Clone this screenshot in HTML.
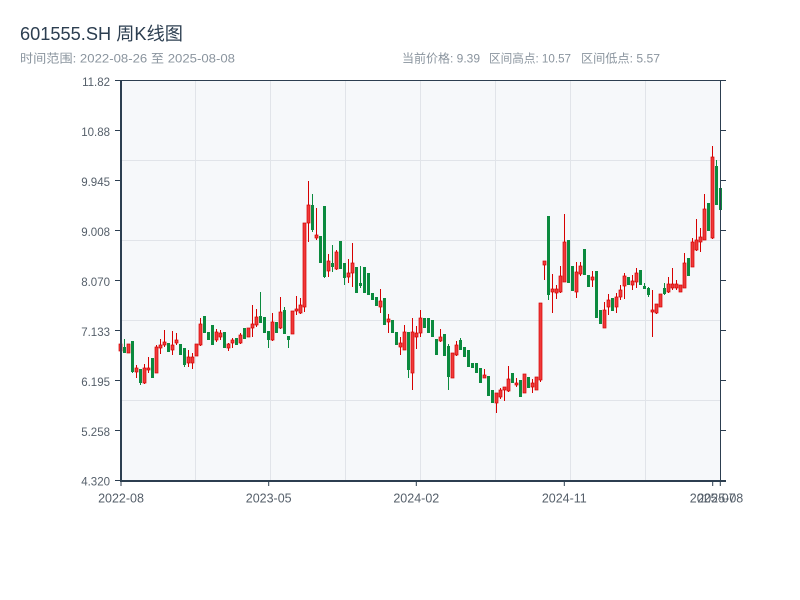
<!DOCTYPE html>
<html>
<head>
<meta charset="utf-8">
<style>
html,body{margin:0;padding:0;background:#fff;}
svg{display:block;}
text{font-family:"Liberation Sans","Noto Sans CJK SC",sans-serif;}
</style>
</head>
<body>
<svg width="800" height="600" viewBox="0 0 800 600" xmlns="http://www.w3.org/2000/svg">
<rect x="0" y="0" width="800" height="600" fill="#ffffff"/>
<text x="20" y="40" font-size="18" fill="#2c3e50" textLength="163" lengthAdjust="spacingAndGlyphs">601555.SH 周K线图</text>
<text x="20" y="62.5" font-size="12" fill="#8a949e" textLength="215" lengthAdjust="spacingAndGlyphs">时间范围: 2022-08-26 至 2025-08-08</text>
<text x="402" y="62.5" font-size="12" fill="#8a949e" textLength="78" lengthAdjust="spacingAndGlyphs">当前价格: 9.39</text>
<text x="489" y="62.5" font-size="12" fill="#8a949e" textLength="82" lengthAdjust="spacingAndGlyphs">区间高点: 10.57</text>
<text x="581" y="62.5" font-size="12" fill="#8a949e" textLength="79" lengthAdjust="spacingAndGlyphs">区间低点: 5.57</text>

<rect x="120" y="80" width="600" height="400" fill="#f6f8fa"/>
<g stroke="#e1e4e9" stroke-width="1">
<line x1="195.5" y1="80" x2="195.5" y2="480"/>
<line x1="270.5" y1="80" x2="270.5" y2="480"/>
<line x1="345.5" y1="80" x2="345.5" y2="480"/>
<line x1="420.5" y1="80" x2="420.5" y2="480"/>
<line x1="495.5" y1="80" x2="495.5" y2="480"/>
<line x1="570.5" y1="80" x2="570.5" y2="480"/>
<line x1="645.5" y1="80" x2="645.5" y2="480"/>
<line x1="120" y1="160.5" x2="720" y2="160.5"/>
<line x1="120" y1="240.5" x2="720" y2="240.5"/>
<line x1="120" y1="320.5" x2="720" y2="320.5"/>
<line x1="120" y1="400.5" x2="720" y2="400.5"/>
</g>

<g stroke="#0b8a3e" stroke-width="1" transform="translate(0.5,0)">
<line x1="124" y1="339" x2="124" y2="353"/>
<line x1="132" y1="341" x2="132" y2="373"/>
<line x1="140" y1="369" x2="140" y2="385"/>
<line x1="152" y1="358" x2="152" y2="378"/>
<line x1="168" y1="343" x2="168" y2="352"/>
<line x1="180" y1="344" x2="180" y2="355"/>
<line x1="184" y1="348" x2="184" y2="367"/>
<line x1="204" y1="316" x2="204" y2="333"/>
<line x1="208" y1="332" x2="208" y2="340"/>
<line x1="212" y1="325" x2="212" y2="345"/>
<line x1="224" y1="332" x2="224" y2="348"/>
<line x1="236" y1="338" x2="236" y2="345"/>
<line x1="244" y1="328" x2="244" y2="339"/>
<line x1="260" y1="292" x2="260" y2="323"/>
<line x1="264" y1="317" x2="264" y2="333"/>
<line x1="268" y1="331" x2="268" y2="348"/>
<line x1="276" y1="322" x2="276" y2="333"/>
<line x1="284" y1="307" x2="284" y2="334"/>
<line x1="288" y1="336" x2="288" y2="348"/>
<line x1="312" y1="194" x2="312" y2="232"/>
<line x1="320" y1="236" x2="320" y2="263"/>
<line x1="324" y1="206" x2="324" y2="278"/>
<line x1="332" y1="245" x2="332" y2="272"/>
<line x1="340" y1="241" x2="340" y2="269"/>
<line x1="344" y1="263" x2="344" y2="285"/>
<line x1="356" y1="267" x2="356" y2="293"/>
<line x1="360" y1="266" x2="360" y2="288"/>
<line x1="364" y1="267" x2="364" y2="293"/>
<line x1="368" y1="273" x2="368" y2="295"/>
<line x1="372" y1="293" x2="372" y2="300"/>
<line x1="376" y1="297" x2="376" y2="306"/>
<line x1="384" y1="298" x2="384" y2="325"/>
<line x1="392" y1="320" x2="392" y2="333"/>
<line x1="396" y1="332" x2="396" y2="345"/>
<line x1="408" y1="332" x2="408" y2="378"/>
<line x1="424" y1="318" x2="424" y2="328"/>
<line x1="428" y1="318" x2="428" y2="333"/>
<line x1="432" y1="320" x2="432" y2="337"/>
<line x1="436" y1="339" x2="436" y2="355"/>
<line x1="444" y1="334" x2="444" y2="356"/>
<line x1="448" y1="344" x2="448" y2="390"/>
<line x1="460" y1="338" x2="460" y2="350"/>
<line x1="464" y1="347" x2="464" y2="357"/>
<line x1="468" y1="350" x2="468" y2="367"/>
<line x1="472" y1="363" x2="472" y2="368"/>
<line x1="476" y1="363" x2="476" y2="373"/>
<line x1="480" y1="368" x2="480" y2="383"/>
<line x1="488" y1="376" x2="488" y2="396"/>
<line x1="492" y1="390" x2="492" y2="403"/>
<line x1="512" y1="373" x2="512" y2="383"/>
<line x1="520" y1="380" x2="520" y2="397"/>
<line x1="528" y1="377" x2="528" y2="388"/>
<line x1="548" y1="216" x2="548" y2="300"/>
<line x1="568" y1="240" x2="568" y2="283"/>
<line x1="572" y1="266" x2="572" y2="291"/>
<line x1="584" y1="249" x2="584" y2="275"/>
<line x1="588" y1="275" x2="588" y2="287"/>
<line x1="596" y1="271" x2="596" y2="318"/>
<line x1="600" y1="310" x2="600" y2="324"/>
<line x1="612" y1="298" x2="612" y2="311"/>
<line x1="628" y1="277" x2="628" y2="285"/>
<line x1="640" y1="270" x2="640" y2="285"/>
<line x1="644" y1="283" x2="644" y2="289"/>
<line x1="648" y1="287" x2="648" y2="297"/>
<line x1="664" y1="283" x2="664" y2="295"/>
<line x1="688" y1="258" x2="688" y2="276"/>
<line x1="708" y1="203" x2="708" y2="231"/>
<line x1="716" y1="160" x2="716" y2="205"/>
<line x1="720" y1="188" x2="720" y2="212"/>
</g>
<g fill="#0b8a3e" transform="translate(0.2,0)">
<rect x="122.8" y="347" width="3" height="6"/>
<rect x="130.8" y="341" width="3" height="31"/>
<rect x="138.8" y="369" width="3" height="14"/>
<rect x="150.8" y="358" width="3" height="20"/>
<rect x="166.8" y="343" width="3" height="9"/>
<rect x="178.8" y="344" width="3" height="11"/>
<rect x="182.8" y="348" width="3" height="17"/>
<rect x="202.8" y="316" width="3" height="17"/>
<rect x="206.8" y="332" width="3" height="8"/>
<rect x="210.8" y="325" width="3" height="20"/>
<rect x="222.8" y="332" width="3" height="16"/>
<rect x="234.8" y="338" width="3" height="7"/>
<rect x="242.8" y="328" width="3" height="11"/>
<rect x="258.8" y="316" width="3" height="7"/>
<rect x="262.8" y="317" width="3" height="16"/>
<rect x="266.8" y="331" width="3" height="9"/>
<rect x="274.8" y="322" width="3" height="11"/>
<rect x="282.8" y="310" width="3" height="24"/>
<rect x="286.8" y="336" width="3" height="4"/>
<rect x="310.8" y="205" width="3" height="25"/>
<rect x="318.8" y="236" width="3" height="27"/>
<rect x="322.8" y="206" width="3" height="71"/>
<rect x="330.8" y="263" width="3" height="4"/>
<rect x="338.8" y="241" width="3" height="28"/>
<rect x="342.8" y="263" width="3" height="15"/>
<rect x="354.8" y="267" width="3" height="26"/>
<rect x="358.8" y="283" width="3" height="3"/>
<rect x="362.8" y="267" width="3" height="26"/>
<rect x="366.8" y="273" width="3" height="22"/>
<rect x="370.8" y="293" width="3" height="7"/>
<rect x="374.8" y="297" width="3" height="9"/>
<rect x="382.8" y="298" width="3" height="27"/>
<rect x="390.8" y="320" width="3" height="13"/>
<rect x="394.8" y="332" width="3" height="13"/>
<rect x="406.8" y="332" width="3" height="38"/>
<rect x="422.8" y="318" width="3" height="10"/>
<rect x="426.8" y="318" width="3" height="15"/>
<rect x="430.8" y="320" width="3" height="17"/>
<rect x="434.8" y="339" width="3" height="16"/>
<rect x="442.8" y="334" width="3" height="22"/>
<rect x="446.8" y="346" width="3" height="31"/>
<rect x="458.8" y="340" width="3" height="10"/>
<rect x="462.8" y="347" width="3" height="10"/>
<rect x="466.8" y="350" width="3" height="17"/>
<rect x="470.8" y="363" width="3" height="5"/>
<rect x="474.8" y="363" width="3" height="10"/>
<rect x="478.8" y="368" width="3" height="15"/>
<rect x="486.8" y="376" width="3" height="20"/>
<rect x="490.8" y="390" width="3" height="13"/>
<rect x="510.8" y="373" width="3" height="10"/>
<rect x="518.8" y="380" width="3" height="17"/>
<rect x="526.8" y="377" width="3" height="11"/>
<rect x="546.8" y="216" width="3" height="79"/>
<rect x="566.8" y="240" width="3" height="43"/>
<rect x="570.8" y="266" width="3" height="25"/>
<rect x="582.8" y="249" width="3" height="26"/>
<rect x="586.8" y="275" width="3" height="12"/>
<rect x="594.8" y="271" width="3" height="47"/>
<rect x="598.8" y="310" width="3" height="14"/>
<rect x="610.8" y="298" width="3" height="13"/>
<rect x="626.8" y="277" width="3" height="8"/>
<rect x="638.8" y="270" width="3" height="15"/>
<rect x="642.8" y="286" width="3" height="3"/>
<rect x="646.8" y="288" width="3" height="7"/>
<rect x="662.8" y="288" width="3" height="6"/>
<rect x="686.8" y="258" width="3" height="18"/>
<rect x="706.8" y="203" width="3" height="28"/>
<rect x="714.8" y="166" width="3" height="39"/>
<rect x="718.8" y="188" width="3" height="22"/>
</g>

<g stroke="#d60000" stroke-width="1" transform="translate(0.5,0)">
<line x1="120" y1="344" x2="120" y2="351"/>
<line x1="128" y1="344" x2="128" y2="353"/>
<line x1="136" y1="365" x2="136" y2="378"/>
<line x1="144" y1="364" x2="144" y2="384"/>
<line x1="148" y1="357" x2="148" y2="373"/>
<line x1="156" y1="345" x2="156" y2="373"/>
<line x1="160" y1="339" x2="160" y2="354"/>
<line x1="164" y1="330" x2="164" y2="347"/>
<line x1="172" y1="331" x2="172" y2="355"/>
<line x1="176" y1="333" x2="176" y2="345"/>
<line x1="188" y1="350" x2="188" y2="367"/>
<line x1="192" y1="353" x2="192" y2="369"/>
<line x1="196" y1="344" x2="196" y2="356"/>
<line x1="200" y1="318" x2="200" y2="346"/>
<line x1="216" y1="329" x2="216" y2="342"/>
<line x1="220" y1="330" x2="220" y2="340"/>
<line x1="228" y1="343" x2="228" y2="351"/>
<line x1="232" y1="338" x2="232" y2="348"/>
<line x1="240" y1="333" x2="240" y2="344"/>
<line x1="248" y1="328" x2="248" y2="337"/>
<line x1="252" y1="305" x2="252" y2="337"/>
<line x1="256" y1="309" x2="256" y2="327"/>
<line x1="272" y1="313" x2="272" y2="341"/>
<line x1="280" y1="297" x2="280" y2="329"/>
<line x1="292" y1="311" x2="292" y2="334"/>
<line x1="296" y1="296" x2="296" y2="315"/>
<line x1="300" y1="298" x2="300" y2="314"/>
<line x1="304" y1="223" x2="304" y2="312"/>
<line x1="308" y1="181" x2="308" y2="242"/>
<line x1="316" y1="208" x2="316" y2="240"/>
<line x1="328" y1="254" x2="328" y2="277"/>
<line x1="336" y1="250" x2="336" y2="270"/>
<line x1="348" y1="259" x2="348" y2="283"/>
<line x1="352" y1="243" x2="352" y2="287"/>
<line x1="380" y1="289" x2="380" y2="313"/>
<line x1="388" y1="314" x2="388" y2="333"/>
<line x1="400" y1="337" x2="400" y2="355"/>
<line x1="404" y1="325" x2="404" y2="350"/>
<line x1="412" y1="318" x2="412" y2="390"/>
<line x1="416" y1="326" x2="416" y2="349"/>
<line x1="420" y1="310" x2="420" y2="337"/>
<line x1="440" y1="329" x2="440" y2="342"/>
<line x1="452" y1="353" x2="452" y2="378"/>
<line x1="456" y1="341" x2="456" y2="356"/>
<line x1="484" y1="369" x2="484" y2="378"/>
<line x1="496" y1="393" x2="496" y2="413"/>
<line x1="500" y1="388" x2="500" y2="399"/>
<line x1="504" y1="387" x2="504" y2="401"/>
<line x1="508" y1="366" x2="508" y2="392"/>
<line x1="516" y1="378" x2="516" y2="387"/>
<line x1="524" y1="374" x2="524" y2="393"/>
<line x1="532" y1="379" x2="532" y2="393"/>
<line x1="536" y1="377" x2="536" y2="390"/>
<line x1="540" y1="303" x2="540" y2="382"/>
<line x1="544" y1="261" x2="544" y2="280"/>
<line x1="552" y1="274" x2="552" y2="313"/>
<line x1="556" y1="285" x2="556" y2="299"/>
<line x1="560" y1="266" x2="560" y2="293"/>
<line x1="564" y1="214" x2="564" y2="282"/>
<line x1="576" y1="262" x2="576" y2="298"/>
<line x1="580" y1="262" x2="580" y2="276"/>
<line x1="592" y1="271" x2="592" y2="287"/>
<line x1="604" y1="302" x2="604" y2="328"/>
<line x1="608" y1="294" x2="608" y2="315"/>
<line x1="616" y1="293" x2="616" y2="313"/>
<line x1="620" y1="285" x2="620" y2="300"/>
<line x1="624" y1="273" x2="624" y2="299"/>
<line x1="632" y1="275" x2="632" y2="290"/>
<line x1="636" y1="268" x2="636" y2="288"/>
<line x1="652" y1="290" x2="652" y2="337"/>
<line x1="656" y1="304" x2="656" y2="314"/>
<line x1="660" y1="294" x2="660" y2="307"/>
<line x1="668" y1="277" x2="668" y2="293"/>
<line x1="672" y1="268" x2="672" y2="290"/>
<line x1="676" y1="280" x2="676" y2="290"/>
<line x1="680" y1="285" x2="680" y2="292"/>
<line x1="684" y1="253" x2="684" y2="288"/>
<line x1="692" y1="238" x2="692" y2="267"/>
<line x1="696" y1="219" x2="696" y2="251"/>
<line x1="700" y1="228" x2="700" y2="252"/>
<line x1="704" y1="194" x2="704" y2="240"/>
<line x1="712" y1="146" x2="712" y2="239"/>
</g>
<g fill="#ef3a3a" stroke="#d60000" stroke-width="0.7" transform="translate(0.2,0)">
<rect x="118.8" y="344" width="3" height="7"/>
<rect x="126.8" y="344" width="3" height="9"/>
<rect x="134.8" y="368" width="3" height="4"/>
<rect x="142.8" y="368" width="3" height="15"/>
<rect x="146.8" y="368" width="3" height="2"/>
<rect x="154.8" y="347" width="3" height="26"/>
<rect x="158.8" y="345" width="3" height="3"/>
<rect x="162.8" y="342" width="3" height="3"/>
<rect x="170.8" y="345" width="3" height="5"/>
<rect x="174.8" y="340" width="3" height="3"/>
<rect x="186.8" y="357" width="3" height="6"/>
<rect x="190.8" y="357" width="3" height="6"/>
<rect x="194.8" y="344" width="3" height="12"/>
<rect x="198.8" y="324" width="3" height="21"/>
<rect x="214.8" y="332" width="3" height="8"/>
<rect x="218.8" y="333" width="3" height="4"/>
<rect x="226.8" y="344" width="3" height="4"/>
<rect x="230.8" y="340" width="3" height="3"/>
<rect x="238.8" y="335" width="3" height="8"/>
<rect x="246.8" y="328" width="3" height="9"/>
<rect x="250.8" y="324" width="3" height="4"/>
<rect x="254.8" y="317" width="3" height="8"/>
<rect x="270.8" y="322" width="3" height="18"/>
<rect x="278.8" y="312" width="3" height="16"/>
<rect x="290.8" y="311" width="3" height="23"/>
<rect x="294.8" y="309" width="3" height="2"/>
<rect x="298.8" y="305" width="3" height="8"/>
<rect x="302.8" y="223" width="3" height="84"/>
<rect x="306.8" y="205" width="3" height="18"/>
<rect x="314.8" y="235" width="3" height="3"/>
<rect x="326.8" y="261" width="3" height="10"/>
<rect x="334.8" y="252" width="3" height="17"/>
<rect x="346.8" y="273" width="3" height="4"/>
<rect x="350.8" y="263" width="3" height="10"/>
<rect x="378.8" y="301" width="3" height="6"/>
<rect x="386.8" y="319" width="3" height="3"/>
<rect x="398.8" y="343" width="3" height="4"/>
<rect x="402.8" y="332" width="3" height="18"/>
<rect x="410.8" y="332" width="3" height="41"/>
<rect x="414.8" y="333" width="3" height="4"/>
<rect x="418.8" y="318" width="3" height="15"/>
<rect x="438.8" y="337" width="3" height="4"/>
<rect x="450.8" y="353" width="3" height="25"/>
<rect x="454.8" y="345" width="3" height="10"/>
<rect x="482.8" y="375" width="3" height="3"/>
<rect x="494.8" y="393" width="3" height="10"/>
<rect x="498.8" y="390" width="3" height="7"/>
<rect x="502.8" y="387" width="3" height="3"/>
<rect x="506.8" y="379" width="3" height="12"/>
<rect x="514.8" y="383" width="3" height="2"/>
<rect x="522.8" y="374" width="3" height="19"/>
<rect x="530.8" y="383" width="3" height="4"/>
<rect x="534.8" y="377" width="3" height="13"/>
<rect x="538.8" y="303" width="3" height="77"/>
<rect x="542.8" y="261" width="3" height="4"/>
<rect x="550.8" y="289" width="3" height="3"/>
<rect x="554.8" y="289" width="3" height="4"/>
<rect x="558.8" y="276" width="3" height="16"/>
<rect x="562.8" y="242" width="3" height="40"/>
<rect x="574.8" y="272" width="3" height="20"/>
<rect x="578.8" y="266" width="3" height="8"/>
<rect x="590.8" y="277" width="3" height="3"/>
<rect x="602.8" y="310" width="3" height="18"/>
<rect x="606.8" y="300" width="3" height="7"/>
<rect x="614.8" y="297" width="3" height="10"/>
<rect x="618.8" y="290" width="3" height="7"/>
<rect x="622.8" y="276" width="3" height="10"/>
<rect x="630.8" y="281" width="3" height="4"/>
<rect x="634.8" y="273" width="3" height="9"/>
<rect x="650.8" y="310" width="3" height="2"/>
<rect x="654.8" y="304" width="3" height="9"/>
<rect x="658.8" y="294" width="3" height="13"/>
<rect x="666.8" y="284" width="3" height="8"/>
<rect x="670.8" y="284" width="3" height="4"/>
<rect x="674.8" y="284" width="3" height="4"/>
<rect x="678.8" y="285" width="3" height="7"/>
<rect x="682.8" y="263" width="3" height="25"/>
<rect x="690.8" y="242" width="3" height="25"/>
<rect x="694.8" y="240" width="3" height="10"/>
<rect x="698.8" y="237" width="3" height="5"/>
<rect x="702.8" y="209" width="3" height="31"/>
<rect x="710.8" y="157" width="3" height="81"/>
</g>

<g stroke="#2c3e50" fill="none">
<line x1="120" y1="80.5" x2="726" y2="80.5" stroke-width="1"/>
<line x1="720.5" y1="80" x2="720.5" y2="482" stroke-width="1"/>
<line x1="121" y1="80" x2="121" y2="482" stroke-width="2"/>
<line x1="120" y1="481" x2="726" y2="481" stroke-width="2"/>
<line x1="115" y1="80.5" x2="120" y2="80.5"/>
<line x1="115" y1="130.5" x2="120" y2="130.5"/>
<line x1="115" y1="180.5" x2="120" y2="180.5"/>
<line x1="115" y1="230.5" x2="120" y2="230.5"/>
<line x1="115" y1="280.5" x2="120" y2="280.5"/>
<line x1="115" y1="330.5" x2="120" y2="330.5"/>
<line x1="115" y1="380.5" x2="120" y2="380.5"/>
<line x1="115" y1="430.5" x2="120" y2="430.5"/>
<line x1="115" y1="480.5" x2="120" y2="480.5"/>
<line x1="720" y1="130.5" x2="726" y2="130.5"/>
<line x1="720" y1="180.5" x2="726" y2="180.5"/>
<line x1="720" y1="230.5" x2="726" y2="230.5"/>
<line x1="720" y1="280.5" x2="726" y2="280.5"/>
<line x1="720" y1="330.5" x2="726" y2="330.5"/>
<line x1="720" y1="380.5" x2="726" y2="380.5"/>
<line x1="720" y1="430.5" x2="726" y2="430.5"/>
<line x1="121" y1="481" x2="121" y2="486"/>
<line x1="268.7" y1="481" x2="268.7" y2="486"/>
<line x1="416.3" y1="481" x2="416.3" y2="486"/>
<line x1="564.3" y1="481" x2="564.3" y2="486"/>
<line x1="712.7" y1="481" x2="712.7" y2="486"/>
<line x1="720.3" y1="481" x2="720.3" y2="486"/>
</g>

<g font-size="11.5" fill="#555f6a" text-anchor="end">
<text x="110" y="86">11.82</text>
<text x="110" y="136">10.88</text>
<text x="110" y="186">9.945</text>
<text x="110" y="236">9.008</text>
<text x="110" y="286">8.070</text>
<text x="110" y="336">7.133</text>
<text x="110" y="386">6.195</text>
<text x="110" y="436">5.258</text>
<text x="110" y="485.5">4.320</text>
</g>
<g font-size="12.5" fill="#555f6a" text-anchor="middle">
<text x="121" y="502.5">2022-08</text>
<text x="268.7" y="502.5">2023-05</text>
<text x="416.3" y="502.5">2024-02</text>
<text x="564.3" y="502.5">2024-11</text>
<text x="712.7" y="502.5">2025-07</text>
<text x="720.3" y="502.5">2025-08</text>
</g>
</svg>
</body>
</html>
